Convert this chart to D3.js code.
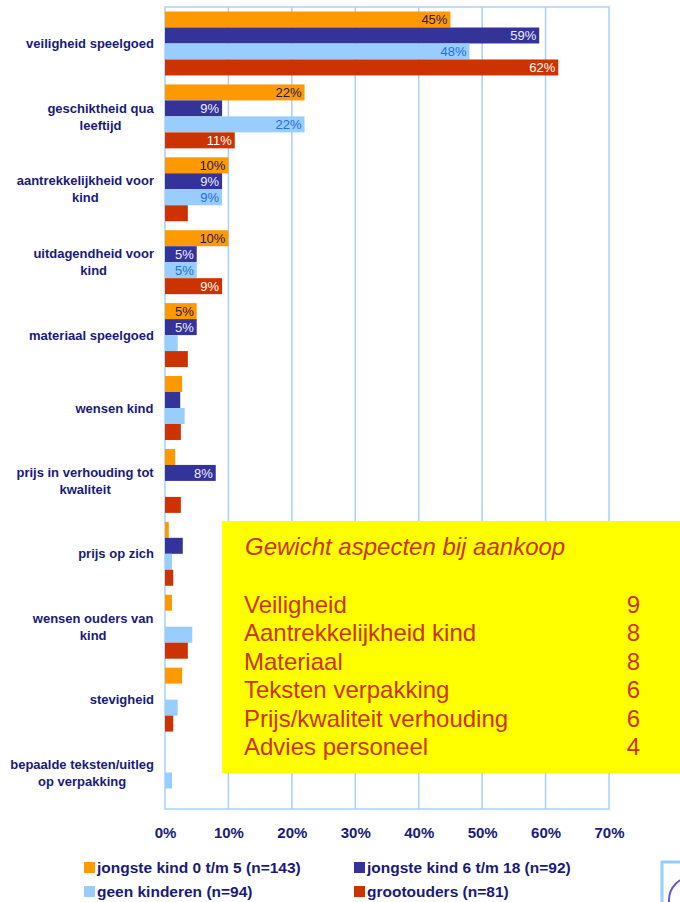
<!DOCTYPE html>
<html>
<head>
<meta charset="utf-8">
<script src="https://cdn.jsdelivr.net/npm/d3@7"></script>
<style>
  body { margin: 0; background: #ffffff; }
  text { font-family: "Liberation Sans", Arial, sans-serif; }
</style>
</head>
<body>
<div id="chart"></div>
<script>
// Chart data
var categories = [
  "veiligheid speelgoed",
  "geschiktheid qua leeftijd",
  "aantrekkelijkheid voor kind",
  "uitdagendheid voor kind",
  "materiaal speelgoed",
  "wensen kind",
  "prijs in verhouding tot kwaliteit",
  "prijs op zich",
  "wensen ouders van kind",
  "stevigheid",
  "bepaalde teksten/uitleg op verpakking"
];

var seriesNames = [
  "jongste kind 0 t/m 5 (n=143)",
  "jongste kind 6 t/m 18 (n=92)",
  "geen kinderen (n=94)",
  "grootouders (n=81)"
];

var kind0tm5   = [45, 22, 10, 10, 5, 2.7, 1.6, 0.6, 1.1, 2.7, 0];
var kind6tm18  = [59, 9, 9, 5, 5, 2.4, 8, 2.8, 0, 0, 0];
var geenKind   = [48, 22, 9, 5, 2, 3.1, 0, 1.1, 4.3, 2, 1.1];
var grootouder = [62, 11, 3.6, 9, 3.6, 2.5, 2.5, 1.3, 3.6, 1.3, 0];

var xTicks = [0, 10, 20, 30, 40, 50, 60, 70];

var boxTitle = "Gewicht aspecten bij aankoop";
var aspects = ["Veiligheid", "Aantrekkelijkheid kind", "Materiaal",
  "Teksten verpakking", "Prijs/kwaliteit verhouding", "Advies personeel"];
var aspectWeights = [9, 8, 8, 6, 6, 4];

// Colours per series
var barColors = ["#ff9900", "#333399", "#99ccff", "#cc3300"];
var valueColors = ["#1a1a5c", "#eeeeff", "#1f6fd6", "#ffffff"];
var navy = "#1a1a78";
var grid = "#a8d0fa";

var svgWidth = 680;
var svgHeight = 902;

var svg = d3.select("#chart")
  .append("svg")
  .attr("width", svgWidth)
  .attr("height", svgHeight);

// Scales
// ==============================
var x = d3.scaleLinear()
  .domain([0, 70])
  .range([165, 609]);

var y = d3.scaleBand()
  .domain(categories)
  .range([7, 809])
  .paddingInner(0.123)
  .paddingOuter(0.062);

var ySeries = d3.scaleBand()
  .domain(d3.range(4))
  .range([0, y.bandwidth()]);

var allSeries = [kind0tm5, kind6tm18, geenKind, grootouder];

// Grid and frame
// ==============================
svg.append("g")
  .selectAll("line")
  .data(xTicks.slice(1, -1))
  .enter()
  .append("line")
  .attr("x1", d => x(d))
  .attr("x2", d => x(d))
  .attr("y1", 7)
  .attr("y2", 809)
  .attr("stroke", grid)
  .attr("stroke-width", 1.5);

svg.append("rect")
  .attr("x", x(0))
  .attr("y", 7)
  .attr("width", x(70) - x(0))
  .attr("height", 802)
  .attr("fill", "none")
  .attr("stroke", grid)
  .attr("stroke-width", 1.5);

// X axis labels
var bottomAxis = d3.axisBottom(x)
  .tickValues(xTicks)
  .tickSize(0)
  .tickPadding(18)
  .tickFormat(d => d + "%");

var xAxis = svg.append("g")
  .attr("transform", "translate(0, 809)")
  .call(bottomAxis);
xAxis.select(".domain").remove();
xAxis.selectAll("text")
  .attr("fill", navy)
  .attr("font-size", "15px")
  .attr("font-weight", "bold")
  .style("font-family", "'Liberation Sans', Arial, sans-serif");

// Bars
// ==============================
var groups = svg.append("g")
  .selectAll("g")
  .data(categories)
  .enter()
  .append("g")
  .attr("transform", d => `translate(0, ${y(d)})`);

groups.each(function (cat, ci) {
  var g = d3.select(this);
  allSeries.forEach(function (vals, si) {
    var v = vals[ci];
    if (v <= 0) return;
    g.append("rect")
      .attr("x", x(0))
      .attr("y", ySeries(si))
      .attr("width", x(v) - x(0))
      .attr("height", ySeries.bandwidth())
      .attr("fill", barColors[si]);
    if (v >= 4.5) {
      g.append("text")
        .attr("x", x(v) - 3)
        .attr("y", ySeries(si) + ySeries.bandwidth() / 2)
        .attr("dy", "0.36em")
        .attr("text-anchor", "end")
        .attr("font-size", "13px")
        .attr("fill", valueColors[si])
        .text(Math.round(v) + "%");
    }
  });
});

// Category labels, wrapped
// ==============================
function wrapLabel(text, maxWidth) {
  var words = text.split(" ");
  var lines = [];
  var line = [];
  var probe = svg.append("text")
    .attr("font-size", "13px")
    .attr("font-weight", "bold");
  words.forEach(function (w) {
    line.push(w);
    probe.text(line.join(" "));
    if (probe.node().getComputedTextLength() > maxWidth && line.length > 1) {
      line.pop();
      lines.push(line.join(" "));
      line = [w];
    }
  });
  lines.push(line.join(" "));
  probe.remove();
  return lines;
}

categories.forEach(function (cat) {
  var lines = wrapLabel(cat, 147);
  var cy = y(cat) + y.bandwidth() / 2;
  var t = svg.append("text")
    .attr("text-anchor", "middle")
    .attr("font-size", "13px")
    .attr("font-weight", "bold")
    .attr("fill", navy);
  lines.forEach(function (ln, i) {
    t.append("tspan")
      .attr("x", 0)
      .attr("y", cy + (i - (lines.length - 1) / 2) * 17)
      .attr("dy", "0.36em")
      .text(ln);
  });
  // block sits right against the axis, lines centred within it
  var w = t.node().getBBox().width;
  t.attr("transform", `translate(${154 - w / 2}, 0)`);
});

// Yellow info box
// ==============================
var box = svg.append("g");
box.append("rect")
  .attr("x", 222)
  .attr("y", 521)
  .attr("width", 470)
  .attr("height", 252)
  .attr("fill", "#ffff00");

box.append("text")
  .attr("x", 245)
  .attr("y", 555)
  .attr("font-size", "24px")
  .attr("font-style", "italic")
  .attr("fill", "#cc3300")
  .text(boxTitle);

var rowY = d3.scalePoint()
  .domain(aspects)
  .range([613, 755]);

box.selectAll(".aspect")
  .data(aspects)
  .enter()
  .append("text")
  .attr("class", "aspect")
  .attr("x", 244)
  .attr("y", d => rowY(d))
  .attr("font-size", "24px")
  .attr("fill", "#cc3300")
  .text(d => d);

box.selectAll(".weight")
  .data(aspectWeights)
  .enter()
  .append("text")
  .attr("class", "weight")
  .attr("x", 640)
  .attr("y", (d, i) => rowY(aspects[i]))
  .attr("text-anchor", "end")
  .attr("font-size", "24px")
  .attr("fill", "#cc3300")
  .text(d => d);

// Legend
// ==============================
var legend = svg.append("g")
  .selectAll("g")
  .data(seriesNames)
  .enter()
  .append("g")
  .attr("transform", (d, i) => `translate(${i % 2 === 0 ? 84 : 354}, ${i < 2 ? 862 : 886})`);

legend.append("rect")
  .attr("width", 11)
  .attr("height", 11)
  .attr("fill", (d, i) => barColors[i]);

legend.append("text")
  .attr("x", 13)
  .attr("y", 11)
  .attr("font-size", "15.5px")
  .attr("font-weight", "bold")
  .attr("fill", navy)
  .text(d => d);

// Corner logo fragment
var logo = svg.append("g");
logo.append("rect")
  .attr("x", 662)
  .attr("y", 862)
  .attr("width", 40)
  .attr("height", 60)
  .attr("fill", "#ffffff")
  .attr("stroke", "#99ccff")
  .attr("stroke-width", 3);
logo.append("circle")
  .attr("cx", 692)
  .attr("cy", 900)
  .attr("r", 23)
  .attr("fill", "none")
  .attr("stroke", "#6655dd")
  .attr("stroke-width", 2);
</script>
</body>
</html>
